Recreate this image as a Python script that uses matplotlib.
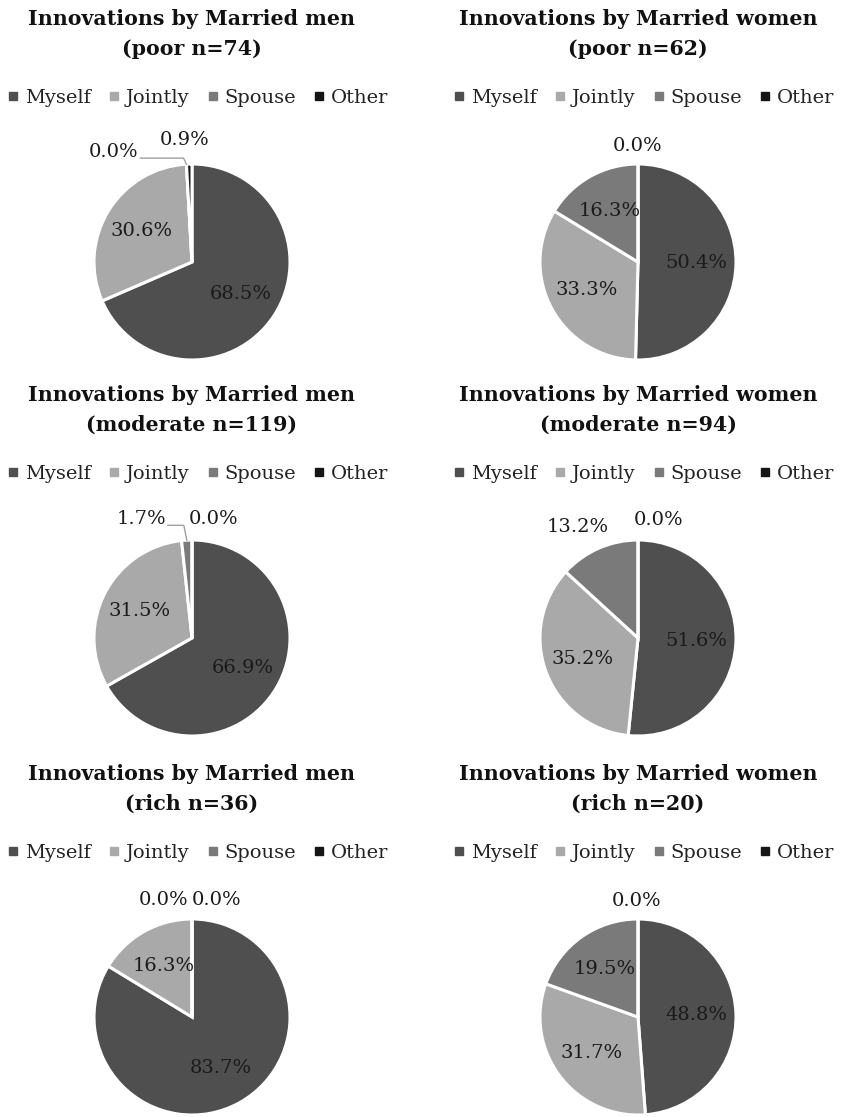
import numpy as np
import matplotlib
matplotlib.use("Agg")
import matplotlib.pyplot as plt
from matplotlib.lines import Line2D

# ---------------- data ----------------
categories = ["Myself", "Jointly", "Spouse", "Other"]
titles = [
    "Innovations by Married men\n(poor n=74)",
    "Innovations by Married women\n(poor n=62)",
    "Innovations by Married men\n(moderate n=119)",
    "Innovations by Married women\n(moderate n=94)",
    "Innovations by Married men\n(rich n=36)",
    "Innovations by Married women\n(rich n=20)",
]
men_poor = [68.5, 30.6, 0.0, 0.9]
women_poor = [50.4, 33.3, 16.3, 0.0]
men_moderate = [66.9, 31.5, 1.7, 0.0]
women_moderate = [51.6, 35.2, 13.2, 0.0]
men_rich = [83.7, 16.3, 0.0, 0.0]
women_rich = [48.8, 31.7, 19.5, 0.0]
panels = [men_poor, women_poor, men_moderate, women_moderate, men_rich, women_rich]

# ---------------- style ----------------
colors = ["#4f4f4f", "#a9a9a9", "#7a7a7a", "#151515"]
FONT = "DejaVu Serif"
plt.rcParams["font.family"] = [FONT, "DejaVu Sans"]

# outside-label styling per panel: category index -> (x shift, y shift in radii, leader line?)
outside = [
    {2: (-0.80, 1.12, True), 3: (-0.08, 1.24, False)},
    {3: (0.0, 1.18, False)},
    {2: (-0.52, 1.21, True), 3: (0.22, 1.21, False)},
    {2: (-0.62, 1.13, False), 3: (0.21, 1.20, False)},
    {2: (-0.29, 1.19, False), 3: (0.25, 1.19, False)},
    {3: (-0.01, 1.18, False)},
]

W, H = 841, 1117
fig = plt.figure(figsize=(W / 100, H / 100), dpi=100)
fig.patch.set_facecolor("white")

col_x = [192, 638]
row_y = [262, 638, 1017]
R = 98.0
half = 135.0  # axes half-size in px
lim = half / R
PCT_FS = 14.0

for i, vals in enumerate(panels):
    r, c = divmod(i, 2)
    cx, cy = col_x[c], row_y[r]
    ax = fig.add_axes([(cx - half) / W, 1 - (cy + half) / H, 2 * half / W, 2 * half / H])
    ax.pie(vals, colors=colors, startangle=90, counterclock=False, radius=1.0,
           wedgeprops=dict(edgecolor="white", linewidth=2.2))
    ax.set_xlim(-lim, lim)
    ax.set_ylim(-lim, lim)
    ax.set_aspect("equal")
    ax.axis("off")
    total = float(np.sum(vals))
    cum = np.cumsum([0] + list(vals))
    texts = []
    for k, v in enumerate(vals):
        mid = np.deg2rad(90 - 360 * (cum[k] + v / 2) / total)
        lab = f"{v:.1f}%"
        if k in outside[i]:
            lx, ly, leader = outside[i][k]
            t = ax.text(lx, ly, lab, ha="center", va="center", fontsize=PCT_FS,
                        color="#1a1a1a", clip_on=False)
            if leader:
                texts.append((t, lx, ly, np.cos(mid), np.sin(mid)))
        else:
            ax.text(0.6 * np.cos(mid), 0.6 * np.sin(mid), lab, ha="center", va="center",
                    fontsize=PCT_FS, color="#1a1a1a")
    if texts:
        fig.canvas.draw()
        inv = ax.transData.inverted()
        for t, lx, ly, px, py in texts:
            bb = t.get_window_extent()
            right = inv.transform((bb.x1, bb.y0))[0]
            yline = ly - 0.06
            ax.plot([right + 0.02, px - 0.03, px], [yline, yline, py],
                    color="#a0a0a0", lw=1.0, clip_on=False)
    # title
    fig.text(cx / W, 1 - (cy - 228) / H, titles[i], ha="center", va="center",
             fontsize=14.8, fontweight="bold", color="#111111", linespacing=1.65)
    # legend
    handles = [Line2D([], [], marker="s", linestyle="", markersize=6, color=col)
               for col in colors]
    fig.legend(handles, categories, loc="center", ncol=4, frameon=False,
               bbox_to_anchor=((cx + 6) / W, 1 - (cy - 164) / H),
               fontsize=14, handlelength=0.6, handletextpad=0.3,
               columnspacing=0.9, labelcolor="#222222")

fig.savefig("out.png", dpi=100, facecolor="white")
